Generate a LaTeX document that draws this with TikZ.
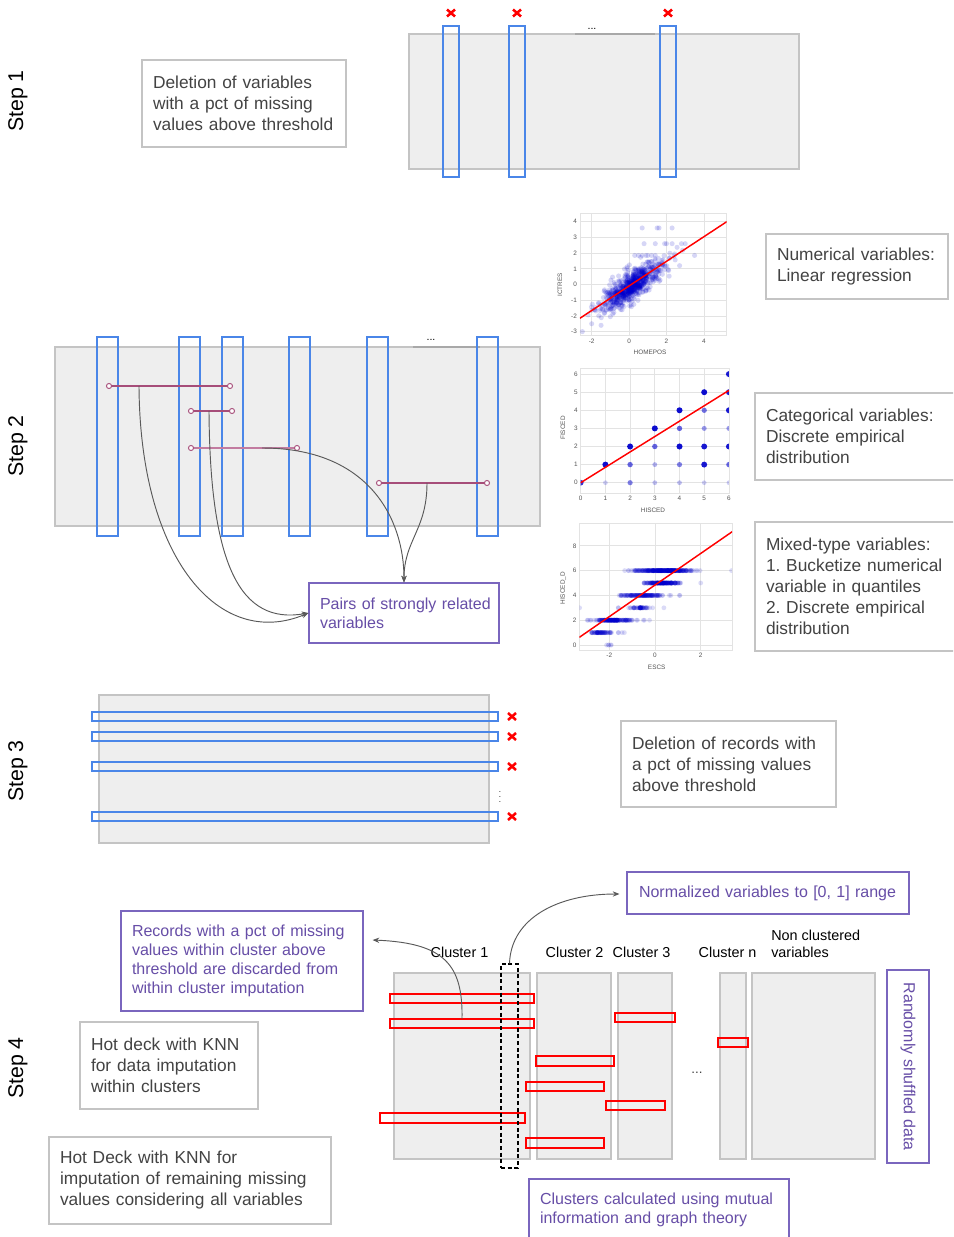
\documentclass[tikz,border=0pt]{standalone}
\usepackage{fontspec}
\setmainfont{Liberation Sans}
\usetikzlibrary{arrows.meta,calc}
\frenchspacing
\definecolor{boxgray}{HTML}{C4C4C4}
\definecolor{fillgray}{HTML}{EEEEEE}
\definecolor{colblue}{HTML}{4A86E8}
\definecolor{pairpink}{HTML}{A64D79}
\definecolor{pairlight}{HTML}{C27BA0}
\definecolor{txtgray}{HTML}{434343}
\definecolor{purp}{HTML}{674EA7}
\definecolor{purpline}{HTML}{7A66BE}
\definecolor{curvegray}{HTML}{595959}
\definecolor{dotblue}{RGB}{0,0,205}
\definecolor{gridgray}{HTML}{E3E3E3}
\definecolor{ticktxt}{HTML}{555555}
\definecolor{topline}{HTML}{A8A8A8}
\begin{document}
\frenchspacing
\begin{tikzpicture}[x=0.75pt,y=-0.75pt,
  gbox/.style={draw=boxgray, line width=0.9pt, fill=white, text=txtgray, font=\fontsize{13}{15.75}\selectfont, align=left, inner xsep=8.25pt, inner ysep=0pt},
  pbox/.style={draw=purpline, line width=0.9pt, fill=white, text=purp, font=\fontsize{12}{14.25}\selectfont, align=left, inner xsep=8.25pt, inner ysep=0pt},
  steplbl/.style={rotate=90, font=\fontsize{16}{19}\selectfont, text=black},
  table/.style={draw=boxgray, fill=fillgray, line width=1.1pt},
  colbox/.style={draw=colblue, line width=0.9pt},
  redbar/.style={draw=red, line width=0.8pt},
  pairline/.style={draw=pairpink, line width=1.5pt},
  pairend/.style={draw=pairpink, fill=white, line width=0.7pt},
  conn/.style={draw=curvegray, line width=0.7pt, -{Stealth[length=5pt,width=4pt]}},
  xmark/.pic={\draw[red, line width=1.9pt] (-4,-3.5) -- (4,3.5) (-4,3.5) -- (4,-3.5);},
  cluslbl/.style={font=\fontsize{10.8}{12.75}\selectfont, text=black, inner sep=0pt},
  dotslbl/.style={font=\fontsize{8}{9}\selectfont, text=black, inner sep=0pt},
  gridline/.style={draw=gridgray, line width=0.5pt},
  regline/.style={draw=red, line width=1.1pt},
  tick/.style={font=\fontsize{4.8}{5}\selectfont, text=ticktxt, inner sep=0.6pt},
  tickl/.style={tick, anchor=east, xshift=-1.5pt},
  tickb/.style={tick, anchor=north, yshift=-1.5pt},
  axname/.style={font=\fontsize{4.8}{5}\selectfont, text=ticktxt, inner sep=0pt},
  dashbox/.style={draw=black, line width=0.8pt, dash pattern=on 3pt off 2pt, inner sep=0pt}
]
\useasboundingbox (0,0) rectangle (953,1237);
\clip (0,0) rectangle (953,1237);
\fill[white] (0,0) rectangle (953,1237);

% ---------- Step labels ----------
\node[steplbl] (st1) at (18,101) {Step 1};
\node[steplbl] (st2) at (18,446) {Step 2};
\node[steplbl] (st3) at (18,771) {Step 3};
\node[steplbl] (st4) at (18,1068) {Step 4};

% ---------- Step 1 ----------
\draw[table] (409,34) rectangle (799,169);
\draw[topline, line width=1.1pt] (575,34) -- (655,34);
\node[dotslbl] (dots1) at (592,29) {...};
\foreach \cx in {443,509,660} \draw[colbox] (\cx,26) rectangle ++(16,151);
\pic at (451,13) {xmark};
\pic at (517,13) {xmark};
\pic at (668,13) {xmark};
\node[gbox, text width=136.5pt, minimum height=65.25pt] (s1txt) at (244,103.5)
  {Deletion of variables\\with a pct of missing\\\mbox{values above threshold}};

% ---------- Step 2 ----------
\draw[table] (55,347) rectangle (540,526);
\draw[topline, line width=1.1pt] (413,347) -- (480,347);
\node[dotslbl] (dots2) at (431,340) {...};
\foreach \cx in {97,179,222,289,367,477} \draw[colbox] (\cx,337) rectangle ++(21,199);

\draw[pairline] (109,386) -- (230,386);
\draw[pairline] (191,411) -- (232,411);
\draw[pairline, draw=pairlight] (191,448) -- (297,448);
\draw[pairline] (379,483) -- (487,483);
\foreach \ex/\ey in {109/386,230/386,191/411,232/411,191/448,297/448,379/483,487/483}
  \draw[pairend] (\ex,\ey) circle[radius=1.9pt];

\coordinate (pa) at (139,386);
\coordinate (pb) at (209,411);
\coordinate (pc) at (262,448);
\coordinate (pd) at (427,483);

\node[pbox, text width=126pt, minimum height=45pt] (pairs) at (404,613)
  {\mbox{Pairs of strongly related}\\variables};

\draw[conn] (pa) .. controls (140,560) and (220,650) .. (pairs.west);
\draw[conn] (pb) .. controls (210,565) and (240,625) .. (pairs.west);
\draw[conn] (pc) .. controls (370,448) and (404,520) .. (pairs.north);
\draw[conn] (pd) .. controls (427,530) and (404,540) .. (pairs.north);

% ---------- Scatter plot 1 ----------
\begin{scope}[shift={(629.1,284.5)}, x=14.025pt, y=11.775pt]
  \foreach \v [count=\k] in {-3,...,4} {
    \draw[gridline] (-2.63,\v) -- (5.22,\v);
    \node[tickl] (pay\k) at (-2.63,\v) {\v};
  }
  \foreach \v [count=\k] in {-2,0,2,4} {
    \draw[gridline] (\v,-3.26) -- (\v,4.53);
    \node[tickb] (pax\k) at (\v,-3.26) {\v};
  }
  \draw[gridline] (-2.63,-3.26) rectangle (5.22,4.53);
  \begin{scope}
    \clip (-2.63,-3.26) rectangle (5.22,4.53);
    \pgfmathsetseed{11}
    \foreach \i in {1,...,750} {
      \pgfmathsetmacro\ua{0.001+0.998*rnd}
      \pgfmathsetmacro\ub{rnd}
      \pgfmathsetmacro\uc{0.001+0.998*rnd}
      \pgfmathsetmacro\ud{rnd}
      \pgfmathsetmacro\qx{0.15+0.8*sqrt(-2*ln(\ua))*cos(360*\ub)}
      \pgfmathsetmacro\qy{0.75*\qx-0.15+0.45*sqrt(-2*ln(\uc))*cos(360*\ud)}
      \fill[dotblue, opacity=0.16] (\qx,\qy) circle[radius=1.9pt];
    }
    \foreach \qx/\qy in {0.3/1.85,0.5/1.85,0.7/1.85,0.9/1.85,1.0/1.85,1.2/1.85,1.4/1.85,3.5/1.85,
                         0.8/2.6,1.4/2.6,1.9/2.6,2.0/2.6,2.3/2.6,2.8/2.6,3.0/2.6,
                         0.7/3.6,1.5/3.6,1.6/3.6,2.3/3.6,2.7/1.2,1.7/0.9,-2.5/-3.0,-2.0/-2.5,-1.5/-2.6}
      \fill[dotblue, opacity=0.16] (\qx,\qy) circle[radius=1.9pt];
    \draw[regline] (-2.63,-2.15) -- (5.22,4.0);
  \end{scope}
\end{scope}
\node[axname, rotate=90] (p1yl) at (560,285) {ICTRES};
\node[axname] (p1xl) at (650,352) {HOMEPOS};

% ---------- Scatter plot 2 ----------
\begin{scope}[shift={(580.7,482.7)}, x=18.525pt, y=13.575pt]
  \foreach \v [count=\k] in {0,...,6} {
    \draw[gridline] (0,\v) -- (6,\v);
    \draw[gridline] (\v,-0.57) -- (\v,6.34);
    \node[tickl] (pby\k) at (0,\v) {\v};
    \node[tickb] (pbx\k) at (\v,-0.57) {\v};
  }
  \draw[gridline] (0,-0.57) rectangle (6,6.34);
  \begin{scope}
    \clip (0,-0.57) rectangle (6,6.34);
    \foreach \qx/\qy/\o in {0/0/0.8, 1/1/0.95, 1/0/0.2, 2/2/0.95, 2/1/0.6, 2/0/0.5,
        3/3/0.95, 3/2/0.6, 3/1/0.3, 3/0/0.25, 4/4/0.95, 4/3/0.6, 4/2/0.95, 4/1/0.5, 4/0/0.25,
        5/5/0.95, 5/4/0.55, 5/3/0.4, 5/2/0.9, 5/1/0.9, 5/0/0.2,
        6/6/0.9, 6/5/0.9, 6/4/0.9, 6/3/0.4, 6/2/0.9, 6/1/0.6, 6/0/0.2} {
      \pgfmathsetmacro\rr{1.6+0.7*\o}
      \fill[dotblue, opacity=\o] (\qx,\qy) circle[radius=\rr pt];
    }
    \draw[regline] (0,0) -- (6,5.1);
  \end{scope}
\end{scope}
\node[axname, rotate=90] (p2yl) at (563,428) {FISCED};
\node[axname] (p2xl) at (653,510) {HISCED};

% ---------- Scatter plot 3 ----------
\begin{scope}[shift={(655,645)}, x=17.1375pt, y=9.3pt]
  \foreach \v [count=\k] in {0,2,4,6,8} {
    \draw[gridline] (-3.31,\v) -- (3.38,\v);
    \node[tickl] (pcy\k) at (-3.31,\v) {\v};
  }
  \foreach \v [count=\k] in {-2,0,2} {
    \draw[gridline] (\v,-0.4) -- (\v,9.81);
    \node[tickb] (pcx\k) at (\v,-0.4) {\v};
  }
  \draw[gridline] (-3.31,-0.4) rectangle (3.38,9.81);
  \begin{scope}
    \clip (-3.31,-0.4) rectangle (3.38,9.81);
    \pgfmathsetseed{5}
    \foreach \lv/\a/\b/\n in {6/-1.2/1.9/260, 5/-0.6/1.25/150, 4/-1.6/0.4/110, 3/-1.0/-0.3/40, 2/-2.7/-0.95/140, 1/-3.0/-1.8/55} {
      \foreach \i in {1,...,\n} {
        \pgfmathsetmacro\qx{\a+(\b-\a)*(rnd+rnd)/2}
        \fill[dotblue, opacity=0.14] (\qx,\lv) circle[radius=1.8pt];
      }
    }
    \foreach \lv/\a/\b/\n in {6/-1.4/2.3/20, 5/-0.9/1.5/12, 4/-1.9/1.1/18, 3/-1.7/0.6/10, 2/-3.0/-0.2/14, 1/-3.1/-1.2/10, 0/-2.7/-1.9/5} {
      \foreach \i in {1,...,\n} {
        \pgfmathsetmacro\qx{\a+(\b-\a)*rnd}
        \fill[dotblue, opacity=0.14] (\qx,\lv) circle[radius=1.8pt];
      }
    }
    \foreach \qx/\qy in {3.35/6, 2.0/5, -3.3/3}
      \fill[dotblue, opacity=0.14] (\qx,\qy) circle[radius=1.8pt];
    \draw[regline] (-3.31,0.62) -- (3.38,9.14);
  \end{scope}
\end{scope}
\node[axname, rotate=90] (p3yl) at (563.3,588.3) {HISCED\_D};
\node[axname] (p3xl) at (656.7,667.3) {ESCS};

% ---------- Step 2 text boxes ----------
\node[gbox, text width=120pt, minimum height=48.75pt] (numtxt) at (857,266.5)
  {\mbox{Numerical variables:}\\Linear regression};
\node[gbox, text width=137.25pt, minimum height=65.25pt] (cattxt) at (857.5,436.5)
  {Categorical variables:\\Discrete empirical\\distribution};
\node[gbox, text width=137.25pt, minimum height=96.75pt] (mixtxt) at (857.5,586.5)
  {Mixed-type variables:\\\mbox{1. Bucketize numerical}\\variable in quantiles\\2. Discrete empirical\\distribution};

% ---------- Step 3 ----------
\draw[table] (99,695) rectangle (489,843);
\foreach \cy in {712,732,762,812} {
  \draw[colbox] (92,\cy) rectangle ++(406,9);
  \pic at (512,{\cy+4.5}) {xmark};
}
\node[font=\fontsize{6}{7}\selectfont, inner sep=0pt] (vdots3) at (500,793) {$\vdots$};
\node[gbox, text width=144.75pt, minimum height=64.5pt] (s3txt) at (728.5,764)
  {Deletion of records with\\a pct of missing values\\above threshold};

% ---------- Step 4 ----------
\draw[table, line width=1pt] (394,973) rectangle (530,1159);
\draw[table, line width=1pt] (537,973) rectangle (611,1159);
\draw[table, line width=1pt] (618,973) rectangle (672,1159);
\draw[table, line width=1pt] (720,973) rectangle (746,1159);
\draw[table, line width=1pt] (752,973) rectangle (875,1159);

\node[cluslbl] (c1) at (459.5,952) {Cluster 1};
\node[cluslbl] (c2) at (574.5,952) {Cluster 2};
\node[cluslbl] (c3) at (641.5,952) {Cluster 3};
\node[cluslbl] (cn) at (727.5,952) {Cluster n};
\node[cluslbl, anchor=west, align=left] (nc) at (771,943.5) {Non clustered\\variables};
\node[font=\fontsize{10}{12}\selectfont, text=txtgray, inner sep=0pt] (dots4) at (697,1073) {...};

\draw[redbar] (390,994) rectangle (534,1003);
\draw[redbar] (390,1019) rectangle (534,1028);
\draw[redbar] (615,1013) rectangle (675,1022);
\draw[redbar] (536,1056) rectangle (614,1066);
\draw[redbar] (526,1082) rectangle (604,1091);
\draw[redbar] (606,1101) rectangle (665,1110);
\draw[redbar] (380,1113) rectangle (525,1123);
\draw[redbar] (526,1138) rectangle (604,1148);
\draw[redbar] (718,1038) rectangle (748,1047);

\node[dashbox, minimum width=12.75pt, minimum height=153pt] (selcol) at (509.5,1066) {};

\node[pbox, text width=193.5pt, inner xsep=9pt, minimum height=31.5pt] (norm) at (768,893)
  {Normalized variables to [0, 1] range};
\node[pbox, text width=165pt, minimum height=75pt] (records) at (242,961)
  {Records with a pct of missing\\values within cluster above\\threshold are discarded from\\within cluster imputation};
\node[gbox, text width=117pt, minimum height=65.25pt] (hot1) at (169,1065.5)
  {Hot deck with KNN\\for data imputation\\within clusters};
\node[gbox, text width=195pt, minimum height=65.25pt] (hot2) at (190,1180.5)
  {Hot Deck with KNN for\\imputation of remaining missing\\values considering all variables};
\node[pbox, text width=178.5pt, minimum height=45.75pt] (clus) at (659,1209.5)
  {Clusters calculated using mutual\\information and graph theory};
\node[pbox, rotate=-90, minimum width=144.75pt, minimum height=31.5pt, inner xsep=0pt] (rand) at (908,1066.5)
  {Randomly shuffled data};

\coordinate (ra) at (462,1019);
\draw[conn] (ra) .. controls (463,965) and (445,943) .. ($(records.east)+(9,-21)$);
\draw[conn] (selcol.north) .. controls (511,918) and (558,894) .. ($(norm.west)+(-7,1)$);

\end{tikzpicture}
\end{document}
